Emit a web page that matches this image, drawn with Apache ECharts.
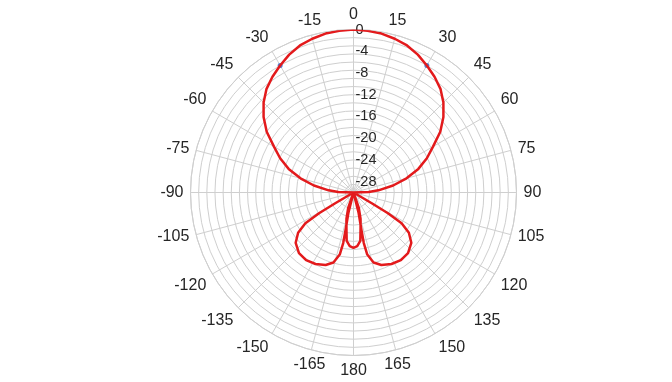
<!DOCTYPE html>
<html><head><meta charset="utf-8">
<script src="https://cdn.jsdelivr.net/npm/echarts@6/dist/echarts.min.js"></script>
<style>html,body{margin:0;padding:0;background:#fff}#c{width:672px;height:382px}</style>
</head><body><div id="c"></div>
<script>
// radial tick labels (dB) shown along the 0° spoke
const radialLabelValues = [0, -4, -8, -12, -16, -20, -24, -28];

// main lobe, right half (angle in degrees, level in dB)
const mainRightAngles = [0, 5, 10, 15, 20, 25, 30, 35, 40, 45, 50, 55, 60, 65, 70, 75, 80, 85, 88, 90];
const mainRightDb     = [0, -0.1, -0.3, -0.7, -1.2, -2.0, -3.0, -4.0, -5.1, -6.6, -8.4, -10.5, -13.1, -15.1, -17.3, -19.9, -22.6, -25.4, -27.2, -30];

// right back lobe
const backRightAngles = [119, 120.5, 121, 122.5, 126, 131, 138, 145, 152, 159, 164, 167.5, 168.5, 168, 166, 167];
const backRightDb     = [-30, -26.1, -22.6, -19.5, -17.4, -15.9, -15.0, -14.8, -15.1, -15.7, -16.6, -18.3, -20.5, -23.0, -26.1, -30];

// small rear lobe around 180°
const rearAngles = [161, 165, 169, 172, 176, 180, -176, -172, -169, -165, -161];
const rearDb     = [-27.0, -25.0, -23.2, -21.0, -20.1, -19.8, -20.1, -21.0, -23.2, -25.0, -27.0];

// left back lobe
const backLeftAngles = [-167, -166, -168, -168.5, -167.5, -164, -159, -152, -145, -138, -131, -126, -122.5, -121, -120.5, -119];
const backLeftDb     = [-30, -26.1, -23.0, -20.5, -18.3, -16.6, -15.7, -15.1, -14.8, -15.0, -15.9, -17.4, -19.5, -22.6, -26.1, -30];

// main lobe, left half
const mainLeftAngles = [-90, -88, -85, -80, -75, -70, -65, -60, -55, -50, -45, -40, -35, -30, -25, -20, -15, -10, -5, 0];
const mainLeftDb     = [-30, -27.2, -25.4, -22.6, -19.9, -17.3, -15.1, -13.1, -10.5, -8.4, -6.6, -5.1, -4.0, -3.0, -2.0, -1.2, -0.7, -0.3, -0.1, 0];

// half-power markers
const markerAngles = [-30, 30];
const markerDb = [-3.0, -3.0];

const toAxisAngle = a => (a < 0 ? a + 360 : a);
const patternAngles = [].concat(mainRightAngles, backRightAngles, rearAngles, backLeftAngles, mainLeftAngles);
const patternDb = [].concat(mainRightDb, backRightDb, rearDb, backLeftDb, mainLeftDb);
const patternData = patternAngles.map((a, i) => [patternDb[i], toAxisAngle(a)]);
const markerData = markerAngles.map((a, i) => [markerDb[i], toAxisAngle(a)]);

const FONT = 'Liberation Sans';
const GRID = '#cfcfcf';
const center = [353.5, 192.5];
const R = 163;

const chart = echarts.init(document.getElementById('c'), null, {renderer: 'canvas'});
chart.setOption({
  animation: false,
  backgroundColor: '#fff',
  polar: [{center: center, radius: R}, {center: center, radius: R}],
  angleAxis: [
    {
      polarIndex: 0, type: 'value', min: 0, max: 360, interval: 15,
      startAngle: 90, clockwise: true,
      axisLine: {lineStyle: {color: GRID, width: 1}},
      axisTick: {show: false},
      splitLine: {lineStyle: {color: GRID, width: 1}},
      axisLabel: {
        formatter: v => (v === 360 ? '' : String(v > 180 ? v - 360 : v)),
        color: '#262626', fontSize: 16, fontFamily: FONT, margin: 7
      }
    },
    {polarIndex: 1, type: 'value', min: 0, max: 360, startAngle: 90, clockwise: true, show: false}
  ],
  radiusAxis: [
    {
      polarIndex: 0, type: 'value', min: -30, max: 0, interval: 1.5,
      axisLine: {show: false}, axisTick: {show: false}, axisLabel: {show: false},
      splitLine: {lineStyle: {color: GRID, width: 1}}
    },
    {
      polarIndex: 1, type: 'value', min: -30, max: 0, interval: 2,
      axisLine: {show: false}, axisTick: {show: false}, splitLine: {show: false},
      axisLabel: {
        formatter: v => (radialLabelValues.indexOf(v) >= 0 ? String(v) : ''),
        margin: -2, align: 'left', verticalAlign: 'middle',
        color: '#262626', fontSize: 14.5, fontFamily: FONT,
        showMinLabel: true, showMaxLabel: true, hideOverlap: false
      }
    }
  ],
  series: [
    {
      type: 'scatter', coordinateSystem: 'polar', polarIndex: 0,
      data: markerData, symbol: 'circle', symbolSize: 5,
      itemStyle: {color: '#2a62c8'}, z: 2, silent: true
    },
    {
      type: 'line', coordinateSystem: 'polar', polarIndex: 0,
      data: patternData, symbol: 'none', showSymbol: false, smooth: false,
      lineStyle: {color: '#e31a1c', width: 2.5}, z: 3, silent: true
    }
  ]
});
</script></body></html>
